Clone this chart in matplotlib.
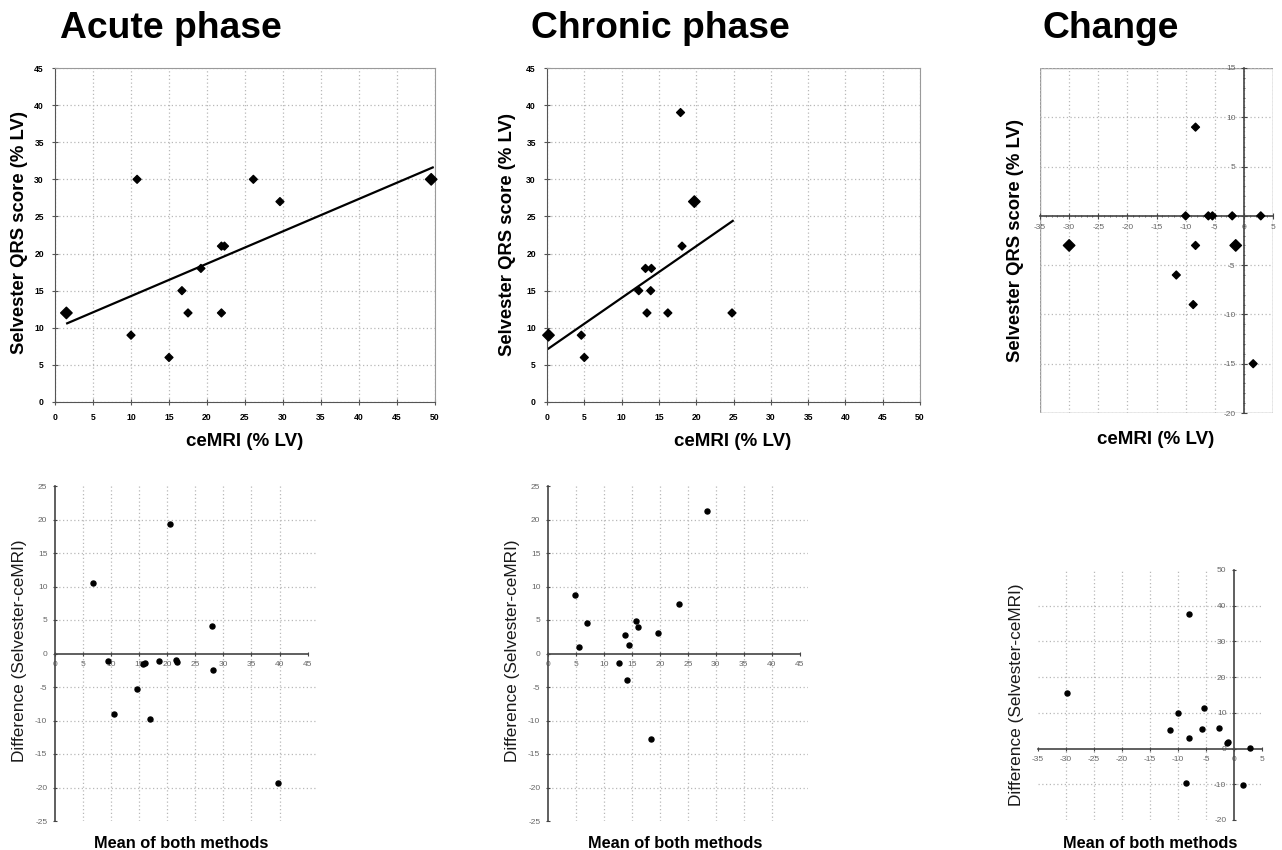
import matplotlib
matplotlib.use('Agg')
import matplotlib.pyplot as plt
from matplotlib.patches import Rectangle
from matplotlib.ticker import MultipleLocator

plt.rcParams['font.family'] = ['Liberation Sans', 'DejaVu Sans']
plt.rcParams['axes.unicode_minus'] = False

# --- values ---
# top row: ceMRI (% LV) vs Selvester QRS score (% LV)
acute_cemri = [1.5, 10.0, 10.8, 15.0, 16.7, 17.5, 19.2, 21.9, 21.9, 22.3, 26.1, 29.6, 49.5]
acute_selv = [12, 9, 30, 6, 15, 12, 18, 12, 21, 21, 30, 27, 30]
acute_fit_x = [1.6, 49.7]
acute_fit_y = [10.6, 31.6]

chronic_cemri = [0.2, 4.6, 5.0, 12.3, 13.2, 14.0, 13.4, 13.9, 16.2, 17.9, 18.1, 19.75, 24.8]
chronic_selv = [9, 9, 6, 15, 18, 18, 12, 15, 12, 39, 21, 27, 12]
chronic_fit_x = [0.2, 24.9]
chronic_fit_y = [7.2, 24.4]

change_cemri = [-30.0, -11.6, -10.0, -8.7, -8.3, -8.3, -6.1, -5.4, -2.0, -1.4, 1.6, 2.9]
change_selv = [-3, -6, 0, -9, 9, -3, 0, 0, 0, -3, -15, 0]

# bottom row: Bland-Altman (mean of both methods vs difference)
ba_acute_mean = [6.8, 9.5, 10.5, 14.6, 15.6, 16.0, 17.0, 18.5, 20.4, 21.5, 21.7, 27.9, 28.2, 39.7]
ba_acute_diff = [10.5, -1.1, -9.0, -5.3, -1.5, -1.4, -9.8, -1.1, 19.3, -1.0, -1.25, 4.1, -2.5, -19.4]

ba_chronic_mean = [4.8, 5.6, 6.9, 12.7, 13.7, 14.2, 14.5, 15.7, 16.1, 18.4, 19.7, 23.4, 28.5]
ba_chronic_diff = [8.8, 1.0, 4.5, -1.4, 2.8, -4.0, 1.2, 4.8, 4.0, -12.7, 3.0, 7.4, 21.3]

ba_change_mean = [-29.8, -11.4, -10.0, -8.1, -8.1, -8.6, -5.7, -5.4, -2.75, -1.25, -1.1, 1.6, 2.9]
ba_change_diff = [15.7, 5.2, 10.0, 37.7, 2.85, -9.5, 5.4, 11.4, 5.9, 1.45, 1.9, -10.2, 0.3]

W, H = 1282, 850
fig = plt.figure(figsize=(W / 100, H / 100), dpi=100)


def px_axes(x0, y0, x1, y1):
    # place an axes by pixel box (origin top-left)
    return fig.add_axes([x0 / W, 1 - y1 / H, (x1 - x0) / W, (y1 - y0) / H])


GRID = dict(color='#b8b8b8', linestyle=(0, (1, 2)), linewidth=0.9)


def scatter_panel(ax, x, y, big, xlim, ylim):
    ax.set_xlim(*xlim)
    ax.set_ylim(*ylim)
    ax.xaxis.set_major_locator(MultipleLocator(5))
    ax.yaxis.set_major_locator(MultipleLocator(5))
    ax.grid(True, **GRID)
    ax.set_axisbelow(True)
    sizes = [34 if i in big else 16 for i in range(len(x))]
    ax.scatter(x, y, s=sizes, marker='D', color='black', zorder=3, clip_on=False)
    for side in ['top', 'right']:
        ax.spines[side].set_color('#9a9a9a')
    for side in ['left', 'bottom']:
        ax.spines[side].set_color('#555555')
    ax.tick_params(direction='inout', length=4, width=0.8, color='#555555',
                   labelsize=6.2, pad=6)
    for lab in ax.get_xticklabels() + ax.get_yticklabels():
        lab.set_fontweight('bold')


def ba_panel(ax, x, y, xlim, ylim, xstep, ystep, xgrid, ygrid, xbound):
    ax.set_xlim(*xlim)
    ax.set_ylim(*ylim)
    ax.xaxis.set_major_locator(MultipleLocator(xstep))
    ax.yaxis.set_major_locator(MultipleLocator(ystep))
    ax.vlines(xgrid, ylim[0], ylim[1], **GRID, zorder=1)
    ax.hlines(ygrid, xlim[0], xlim[1], **GRID, zorder=1)
    for side in ['top', 'right']:
        ax.spines[side].set_visible(False)
    ax.spines['left'].set_position(('data', 0))
    ax.spines['bottom'].set_position(('data', 0))
    ax.spines['bottom'].set_bounds(*xbound)
    for side in ['left', 'bottom']:
        ax.spines[side].set_color('#444444')
        ax.spines[side].set_linewidth(1.2)
    ax.tick_params(direction='inout', length=3, width=0.8, color='#444444',
                   labelsize=6.0, labelcolor='#666666', pad=4)
    ax.scatter(x, y, s=13, marker='o', color='black', zorder=3, clip_on=False)


# ---- top row ----
ax1 = px_axes(55, 68, 435, 402)
scatter_panel(ax1, acute_cemri, acute_selv, [0, 12], (0, 50), (0, 45))
ax1.plot(acute_fit_x, acute_fit_y, color='black', lw=1.6, zorder=2)

ax2 = px_axes(547, 68, 920, 402)
scatter_panel(ax2, chronic_cemri, chronic_selv, [0, 11], (0, 50), (0, 45))
ax2.plot(chronic_fit_x, chronic_fit_y, color='black', lw=1.6, zorder=2)

ax3 = px_axes(1040, 68, 1273, 413)
ax3.set_xlim(-35, 5)
ax3.set_ylim(-20, 15)
ax3.xaxis.set_major_locator(MultipleLocator(5))
ax3.yaxis.set_major_locator(MultipleLocator(5))
ax3.xaxis.set_minor_locator(MultipleLocator(1))
ax3.yaxis.set_minor_locator(MultipleLocator(1))
ax3.grid(True, **GRID)
ax3.set_axisbelow(True)
for side in ['top', 'right']:
    ax3.spines[side].set_visible(False)
ax3.spines['left'].set_position(('data', 0))
ax3.spines['bottom'].set_position(('data', 0))
for side in ['left', 'bottom']:
    ax3.spines[side].set_color('#444444')
    ax3.spines[side].set_linewidth(1.2)
ax3.add_patch(Rectangle((0, 0), 1, 1, transform=ax3.transAxes, fill=False,
                        edgecolor='#9a9a9a', lw=1.0, zorder=0))
ax3.tick_params(which='major', direction='inout', length=4, width=0.8,
                color='#444444', labelsize=6.0, labelcolor='#666666', pad=4)
ax3.tick_params(which='minor', direction='inout', length=2, width=0.6, color='#444444')
change_big = [0, 9]
ax3.scatter(change_cemri, change_selv,
            s=[34 if i in change_big else 16 for i in range(len(change_cemri))],
            marker='D', color='black', zorder=3, clip_on=False)

# ---- bottom row ----
ax4 = px_axes(55, 486, 316, 821)
ba_panel(ax4, ba_acute_mean, ba_acute_diff, (0, 46.5), (-25, 25), 5, 5,
         range(5, 45, 5), [-20, -15, -10, -5, 5, 10, 15, 20], (0, 45))

ax5 = px_axes(548, 486, 808, 821)
ba_panel(ax5, ba_chronic_mean, ba_chronic_diff, (0, 46.5), (-25, 25), 5, 5,
         range(5, 45, 5), [-20, -15, -10, -5, 5, 10, 15, 20], (0, 45))

ax6 = px_axes(1038, 570, 1262, 820)
ba_panel(ax6, ba_change_mean, ba_change_diff, (-35, 5), (-20, 50), 5, 10,
         range(-30, 0, 5), [-10, 10, 20, 30, 40], (-35, 5))

# ---- titles and labels ----
for x, t in [(60, 'Acute phase'), (531, 'Chronic phase'), (1042, 'Change')]:
    fig.text(x / W, 1 - 38 / H, t, fontsize=26.8, fontweight='bold', ha='left', va='baseline')

for x, y in [(20, 232), (508, 235), (1015, 240)]:
    fig.text(x / W, 1 - y / H, 'Selvester QRS score (% LV)', rotation=90,
             fontsize=13.3, fontweight='bold', ha='center', va='center')
for x, y in [(245, 441), (733, 441), (1156, 439)]:
    fig.text(x / W, 1 - y / H, 'ceMRI (% LV)', fontsize=13.5, fontweight='bold',
             ha='center', va='center')

for x, y in [(20, 651), (513, 651), (1017, 695)]:
    fig.text(x / W, 1 - y / H, 'Difference (Selvester-ceMRI)', rotation=90,
             fontsize=12.4, color='#1a1a1a', ha='center', va='center')
for x in [181, 675, 1150]:
    fig.text(x / W, 1 - 844 / H, 'Mean of both methods', fontsize=11.8,
             fontweight='bold', ha='center', va='center')

fig.savefig('out.png', dpi=100, facecolor='white')
